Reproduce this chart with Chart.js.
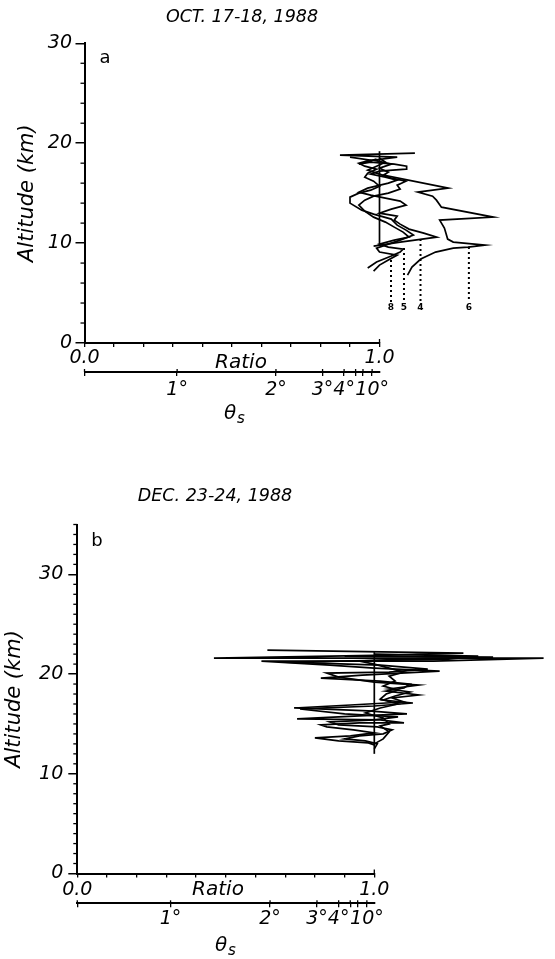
<!DOCTYPE html>
<html><head><meta charset="utf-8">
<script src="https://cdn.jsdelivr.net/npm/chart.js@4"></script>
<style>
html,body{margin:0;padding:0;background:#fff;}
#wrap{position:relative;width:555px;height:959px;overflow:hidden;}
canvas{position:absolute;left:0;}
</style></head><body>
<div id="wrap">
<canvas id="c1" width="555" height="480" style="top:0"></canvas>
<canvas id="c2" width="555" height="479" style="top:480px"></canvas>
</div>
<script>
// ---------- text / tick data ----------
const octTitle = 'OCT. 17-18, 1988';
const decTitle = 'DEC. 23-24, 1988';
const altTickValues = [0, 10, 20, 30];
const ratioTickLabels = ['0.0', '1.0'];
const thetaTickRatios = [0, 0.314, 0.649, 0.807, 0.880, 0.919, 0.944, 0.975];
const thetaTickLabels = ['', '1°', '2°', '3°', '4°', '', '', '10°'];

// ---------- panel a: OCT. 17-18, 1988 ----------
const octRefRatio = [1.0, 1.0];
const octRefAlt = [9.7, 19.2];
const oct8Ratio = [0.98,1.0,1.03,1.06,1.0,0.99,1.02,1.07,1.115,1.09,1.06,1.04,0.98,0.94,0.90,0.90,0.93,0.97,1.0,0.98,0.95,0.96,0.99,0.95,0.93,0.97,0.90];
const oct8Alt   = [7.2,7.8,8.3,8.8,9.1,9.5,9.8,10.3,10.8,11.3,11.8,12.4,12.9,13.3,14.0,14.6,15.0,15.3,15.7,16.2,16.6,17.0,17.4,17.7,18.0,18.3,18.6];
const oct5Ratio = [0.96,0.99,1.04,1.07,1.08,1.03,1.0,1.05,1.10,1.08,1.05,1.02,0.98,0.95,0.93,0.95,0.98,1.03,1.07,1.06,1.09,1.04,1.0,0.96,0.99,1.02,1.0];
const oct5Alt   = [7.5,8.1,8.7,9.1,9.4,9.6,9.9,10.3,10.6,11.1,11.6,12.1,12.6,13.2,13.8,14.3,14.7,15.0,15.4,15.8,16.2,16.5,16.9,17.3,17.7,18.1,18.5];
const oct4Ratio = [0.98,1.07,1.194,1.15,1.10,1.07,1.05,1.06,1.0,1.04,1.09,1.07,1.02,0.97,0.93,0.96,1.03,1.06,1.02,0.97,1.0,1.09,1.092,1.05,0.97,0.93,0.99];
const oct4Alt   = [9.7,10.1,10.6,11.0,11.4,11.9,12.3,12.7,13.0,13.4,13.8,14.2,14.5,14.8,15.1,15.5,16.0,16.3,16.6,16.9,17.2,17.4,17.7,17.9,18.1,17.9,18.4];
const oct6Ratio = [1.095,1.11,1.14,1.19,1.25,1.30,1.358,1.25,1.231,1.225,1.22,1.204,1.386,1.21,1.193,1.18,1.13,1.233,1.013,1.03,1.0,1.04,0.98,1.06,0.866,1.12];
const oct6Alt   = [6.8,7.6,8.4,9.1,9.5,9.6,9.8,10.1,10.4,11.0,11.5,12.3,12.6,13.6,14.3,14.7,15.1,15.5,16.8,17.1,17.5,17.9,18.3,18.6,18.8,19.0];
const octMarkLabels = ['8', '5', '4', '6'];
const octMarkRatio = [1.039, 1.083, 1.139, 1.303];
const octMarkTopAlt = [8.3, 9.5, 10.4, 9.6];
const octMarkBottomAlt = 4.1;
const octMarkLabelAlt = 3.5;

// ---------- panel b: DEC. 23-24, 1988 ----------
const decRefRatio = [1.0, 1.0];
const decRefAlt = [12.0, 22.2];
const decPRatio = [1.0,0.98,0.88,0.80,0.92,1.0,0.93,0.84,0.82,0.95,1.10,1.02,0.74,0.95,1.11,0.98,0.73,0.92,1.10,1.06,1.15,1.04,1.10,1.12,1.02,0.82,0.96,1.22,1.00,0.85,0.62,1.20,1.57,0.46,1.05,1.30,0.64];
const decPAlt   = [12.9,13.1,13.3,13.6,13.8,14.1,14.4,14.7,14.9,15.1,15.1,15.4,15.5,15.8,16.0,16.3,16.6,16.9,17.2,17.6,17.9,18.3,18.6,19.0,19.3,19.6,19.9,20.3,20.6,20.9,21.3,21.3,21.6,21.6,21.9,22.1,22.4];
const decQRatio = [1.0,1.01,0.97,0.90,0.95,1.03,1.06,1.01,0.88,0.85,1.0,1.08,0.90,0.75,1.0,1.13,1.03,1.07,1.12,1.05,1.15,1.0,0.88,0.84,1.05,1.18,1.02,0.70,1.25,1.35,1.0];
const decQAlt   = [12.5,13.0,13.3,13.5,13.8,14.0,14.4,14.7,14.9,15.2,15.4,15.7,16.0,16.5,16.8,17.1,17.4,17.8,18.2,18.5,18.9,19.2,19.7,20.1,20.2,20.5,20.9,21.2,21.5,21.8,22.0];
const decRRatio = [1.0,1.03,1.05,1.02,1.05,1.03,0.97,1.02,1.08,1.02,1.04,1.08,1.03,1.07,1.05,1.10,1.05,1.0,0.95,1.10,1.40,0.90];
const decRAlt   = [13.0,13.5,14.2,14.8,15.0,15.6,16.1,16.6,17.0,17.5,18.0,18.4,18.8,19.3,19.8,20.2,20.6,21.0,21.3,21.5,21.7,21.8];

// ---------- helpers ----------
const FONT = "'DejaVu Sans', sans-serif";
function pts(xs, ys) { return xs.map((x, i) => ({ x: x, y: ys[i] })); }
function lineDs(xs, ys, extra) {
  return Object.assign({
    data: pts(xs, ys), showLine: true, borderColor: '#000', backgroundColor: '#000',
    borderWidth: 1.7, pointRadius: 0, pointHoverRadius: 0, fill: false, clip: false, tension: 0
  }, extra || {});
}

function decoPlugin(g) {
  return {
    id: 'deco' + g.key,
    afterDraw(chart) {
      const ctx = chart.ctx, xs = chart.scales.x, ys = chart.scales.y, x2 = chart.scales.x2;
      const area = chart.chartArea;
      ctx.save();
      ctx.strokeStyle = '#000'; ctx.lineWidth = 1.3;
      // minor altitude ticks
      for (let v = 0; v <= g.yMax; v += g.minorStep) {
        if (v % 10 === 0) continue;
        const py = ys.getPixelForValue(v);
        ctx.beginPath(); ctx.moveTo(area.left - 4, py); ctx.lineTo(area.left, py); ctx.stroke();
      }
      // upper half of theta ticks (crossing marks)
      thetaTickRatios.forEach(v => {
        const px = x2.getPixelForValue(v);
        ctx.beginPath(); ctx.moveTo(px, x2.top); ctx.lineTo(px, x2.top - 3); ctx.stroke();
      });
      // upward tick at ratio 1.0
      const p1 = xs.getPixelForValue(1);
      ctx.beginPath(); ctx.moveTo(p1, xs.top); ctx.lineTo(p1, xs.top - 4); ctx.stroke();

      ctx.fillStyle = '#000';
      ctx.textAlign = 'center'; ctx.textBaseline = 'middle';
      ctx.font = 'italic 17.5px ' + FONT;
      ctx.fillText(g.title, g.titleX, g.titleY);
      ctx.font = '18px ' + FONT;
      ctx.fillText(g.letter, g.letterX, g.letterY);
      ctx.font = 'italic 20px ' + FONT;
      ctx.fillText('Ratio', g.ratioX, g.ratioY);
      ctx.font = 'italic 20px ' + FONT;
      ctx.fillText('θ', g.thetaX, g.thetaY);
      ctx.font = 'italic 15px ' + FONT;
      ctx.fillText('s', g.thetaX + 11, g.thetaY + 5);
      if (g.marks) {
        ctx.font = 'bold 9px ' + FONT;
        g.marks.labels.forEach((lab, i) => {
          ctx.fillText(lab, xs.getPixelForValue(g.marks.ratio[i]), ys.getPixelForValue(g.marks.labelAlt));
        });
      }
      ctx.restore();
    }
  };
}

function makePanel(canvas, g, datasets) {
  const tickFont = { family: FONT, size: 19, style: 'italic', lineHeight: 1.2 };
  return new Chart(canvas, {
    type: 'scatter',
    data: { datasets: datasets },
    options: {
      responsive: false, animation: false, devicePixelRatio: 1, events: [],
      layout: { padding: { left: 0, right: g.padRight, top: g.padTop, bottom: 0 } },
      plugins: { legend: { display: false }, tooltip: { enabled: false } },
      scales: {
        y: {
          type: 'linear', position: 'left', min: 0, max: g.yMax,
          afterFit(s) { s.width = g.left; },
          afterBuildTicks(s) { s.ticks = altTickValues.map(v => ({ value: v })); },
          ticks: { color: '#000', font: tickFont, padding: g.yTickPad, callback: v => String(v) },
          grid: { drawOnChartArea: false, drawTicks: true, tickLength: 9, color: '#000', lineWidth: 1.5 },
          border: { display: true, color: '#000', width: 2 },
          title: { display: true, text: 'Altitude (km)', color: '#000',
                   font: { family: FONT, size: 21, style: 'italic', lineHeight: 1.2 },
                   padding: { top: g.yTitlePad, bottom: 0 } }
        },
        x: {
          type: 'linear', position: 'bottom', weight: 1, min: 0, max: 1,
          afterFit(s) { s.height = g.ratioH; },
          ticks: { stepSize: 0.1, autoSkip: false, maxRotation: 0, color: '#000', font: tickFont, padding: g.ratioTickPad,
                   callback: v => (Math.abs(v) < 1e-6 ? ratioTickLabels[0] : (Math.abs(v - 1) < 1e-6 ? ratioTickLabels[1] : '')) },
          grid: { drawOnChartArea: false, drawTicks: true, tickLength: 4, color: '#000', lineWidth: 1.3 },
          border: { display: true, color: '#000', width: 2 }
        },
        x2: {
          type: 'linear', axis: 'x', position: 'bottom', weight: 2, min: 0, max: 1,
          afterFit(s) { s.height = g.thetaH; },
          afterBuildTicks(s) { s.ticks = thetaTickRatios.map(v => ({ value: v })); },
          ticks: { autoSkip: false, maxRotation: 0, color: '#000', font: tickFont, padding: g.thetaTickPad,
                   callback: (v, i) => thetaTickLabels[i] },
          grid: { drawOnChartArea: false, drawTicks: true, tickLength: 4, color: '#000', lineWidth: 1.3 },
          border: { display: true, color: '#000', width: 2 }
        }
      }
    },
    plugins: [decoPlugin(g)]
  });
}

// ---------- panel a ----------
const gA = {
  key: 'a', left: 84.5, padRight: 175.5, padTop: 43.3, yMax: 30, minorStep: 2,
  ratioH: 29, thetaH: 108, yTickPad: 3.5, yTitlePad: 15.4, ratioTickPad: 0, thetaTickPad: 3,
  title: octTitle, titleX: 242, titleY: 17, letter: 'a', letterX: 105, letterY: 58,
  ratioX: 241, ratioY: 363, thetaX: 230, thetaY: 414,
  marks: { labels: octMarkLabels, ratio: octMarkRatio, labelAlt: octMarkLabelAlt }
};
const dsA = [
  lineDs(octRefRatio, octRefAlt),
  lineDs(oct8Ratio, oct8Alt),
  lineDs(oct5Ratio, oct5Alt),
  lineDs(oct4Ratio, oct4Alt),
  lineDs(oct6Ratio, oct6Alt)
];
octMarkRatio.forEach((r, i) => {
  dsA.push(lineDs([r, r], [octMarkTopAlt[i], octMarkBottomAlt], { borderDash: [2, 3], borderWidth: 2 }));
});
makePanel(document.getElementById('c1'), gA, dsA);

// ---------- panel b ----------
const gB = {
  key: 'b', left: 77.3, padRight: 180.7, padTop: 44.5, yMax: 35, minorStep: 1,
  ratioH: 29.8, thetaH: 55.7, yTickPad: 5, yTitlePad: 2.4, ratioTickPad: 1, thetaTickPad: 0.6,
  title: decTitle, titleX: 215, titleY: 16, letter: 'b', letterX: 97, letterY: 61,
  ratioX: 218, ratioY: 410, thetaX: 221, thetaY: 466, marks: null
};
const dsB = [
  lineDs(decRefRatio, decRefAlt),
  lineDs(decPRatio, decPAlt),
  lineDs(decQRatio, decQAlt),
  lineDs(decRRatio, decRAlt)
];
makePanel(document.getElementById('c2'), gB, dsB);
</script>
</body></html>
